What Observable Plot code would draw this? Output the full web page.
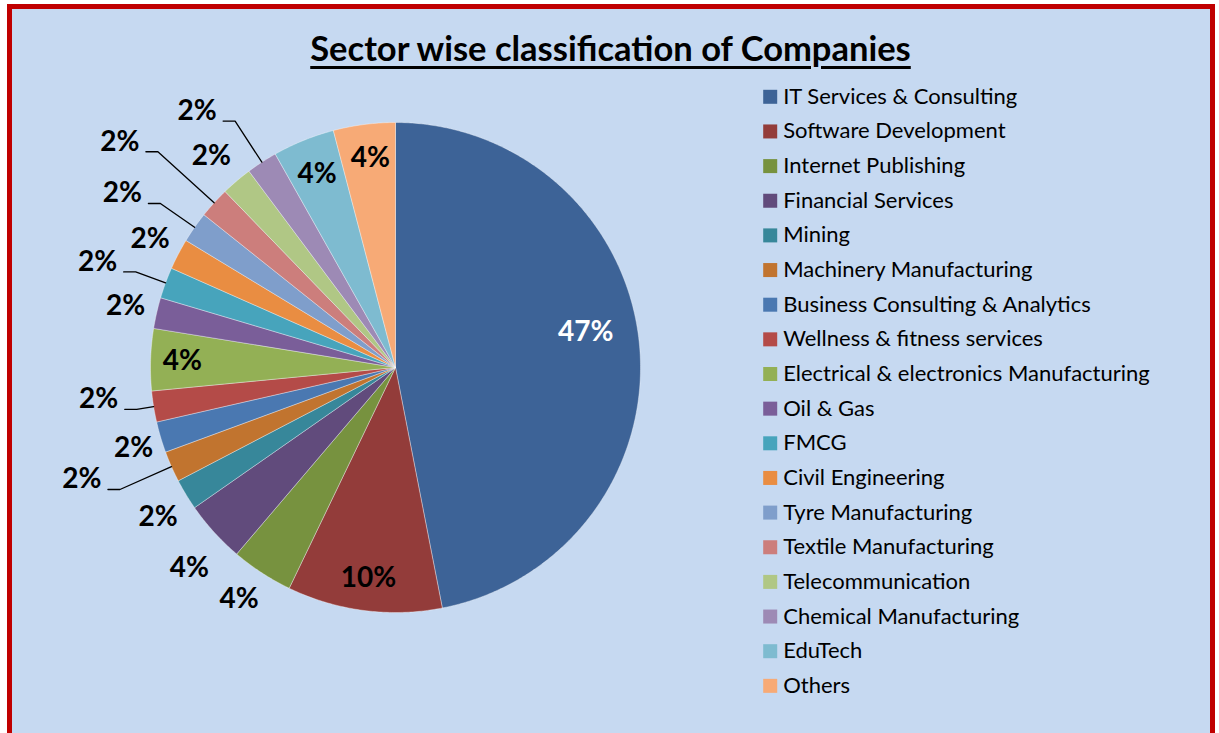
<!DOCTYPE html>
<html><head><meta charset="utf-8">
<script src="https://cdn.jsdelivr.net/npm/d3@7"></script>
<script src="https://cdn.jsdelivr.net/npm/@observablehq/plot@0.6"></script>
<style>
body{margin:0;background:#fff;}
#wrap{position:relative;width:1219px;height:733px;overflow:hidden;font-family:Lato,"Open Sans",sans-serif;}
#frame{position:absolute;left:7px;top:4px;width:1208px;height:745px;box-sizing:border-box;border:5px solid #C00000;background:#C6D9F1;}
#title{position:absolute;left:0;width:1221px;top:28px;text-align:center;font-weight:bold;font-size:34.5px;line-height:40px;color:#000;
  text-decoration:underline;text-decoration-thickness:3px;text-underline-offset:5px;}
#chart{position:absolute;left:0;top:0;}
</style></head><body>
<div id="wrap"><div id="frame"></div><div id="title">Sector wise classification of Companies</div><div id="chart"></div></div>
<script>
// ---- data ----
const categories = [
  "IT Services & Consulting","Software Development","Internet Publishing","Financial Services",
  "Mining","Machinery Manufacturing","Business Consulting & Analytics","Wellness & fitness services",
  "Electrical & electronics Manufacturing","Oil & Gas","FMCG","Civil Engineering",
  "Tyre Manufacturing","Textile Manufacturing","Telecommunication","Chemical Manufacturing",
  "EduTech","Others"
];
const counts = [23,5,2,2,1,1,1,1,2,1,1,1,1,1,1,1,2,2];
const colors = [
  "#3D6397","#933C3A","#77923F","#614B7C","#37879A","#C1742F",
  "#4A78B1","#B44B48","#93B055","#7A5E99","#47A4BC","#E98D42",
  "#7F9ECB","#CC7E7C","#B0C785","#9D8AB5","#7EBBD0","#F7AA76"
];
// label placement per slice: [kind, radius factor, angle offset in degrees]
const labelPlacement = [
  ["in",0.79,-5],["in",0.865,0],["out",1.14,1],["out",1.175,-2],["out",1.145,-1],["lead",1.23,0],
  ["out",1.118,-0.5],["lead",1.07,0],["in",0.87,0],["out",1.13,0],["lead",1.13,0],["out",1.13,0],
  ["lead",1.17,0],["lead",1.31,0],["out",1.143,-0.7],["lead",1.2,0],["in",0.853,0],["in",0.863,0.5]
];

// ---- geometry ----
const cx = 395, cy = 367, R = 245;
const total = d3.sum(counts);
const arcs = d3.pie().sort(null).value(d => d)(counts);
const pt = (a, r) => [cx + r * Math.sin(a), cy - r * Math.cos(a)];

const slicePts = [];
arcs.forEach((a, i) => {
  const name = categories[i];
  const n = Math.max(2, Math.ceil((a.endAngle - a.startAngle) / (Math.PI / 360)));
  slicePts.push({name, x: cx, y: cy});
  for (let k = 0; k <= n; ++k) {
    const t = a.startAngle + (a.endAngle - a.startAngle) * k / n;
    const [x, y] = pt(t, R);
    slicePts.push({name, x, y});
  }
  slicePts.push({name, x: cx, y: cy});
});

const labels = [];
const leaders = [];
arcs.forEach((a, i) => {
  const [kind, f, off] = labelPlacement[i];
  const mid = (a.startAngle + a.endAngle) / 2;
  const text = Math.round(counts[i] / total * 100) + "%";
  if (kind === "lead") {
    const [ex, ey] = pt(mid, R * f);
    const [sx, sy] = pt(mid, R);
    leaders.push({id: i, x: sx, y: sy}, {id: i, x: ex, y: ey}, {id: i, x: ex - 12, y: ey});
    labels.push({text, x: ex - 38, y: ey - 10, white: false});
  } else {
    const [x, y] = pt(mid + off * Math.PI / 180, R * f);
    labels.push({text, x, y, white: i === 0});
  }
});

const legendRows = categories.map((c, i) => ({name: c, y: 96.3 + i * 34.65}));

const chart = Plot.plot({
  width: 1219, height: 733, margin: 0,
  x: {type: "identity", axis: null},
  y: {type: "identity", axis: null},
  color: {type: "ordinal", domain: categories, range: colors},
  style: {background: "transparent", overflow: "visible", fontFamily: "Lato, 'Open Sans', sans-serif"},
  marks: [
    Plot.line(slicePts, {x: "x", y: "y", z: "name", fill: "name", stroke: "#ffffff", strokeOpacity: 0.45, strokeWidth: 0.8, curve: "linear"}),
    Plot.line(leaders, {x: "x", y: "y", z: "id", stroke: "#000", strokeWidth: 1.3, curve: "linear"}),
    Plot.text(labels, {x: "x", y: "y", text: "text", fill: d => d.white ? "#ffffff" : "#000000", fontSize: 28, fontWeight: "bold", textAnchor: "middle", lineAnchor: "middle"}),
    Plot.dot(legendRows, {x: 769.7, y: "y", symbol: "square", r: 7.9, fill: "name", stroke: null}),
    Plot.text(legendRows, {x: 782.7, y: "y", text: "name", fontSize: 22, textAnchor: "start", lineAnchor: "middle", fill: "#000"})
  ]
});
document.getElementById("chart").appendChild(chart);
</script>
</body></html>
